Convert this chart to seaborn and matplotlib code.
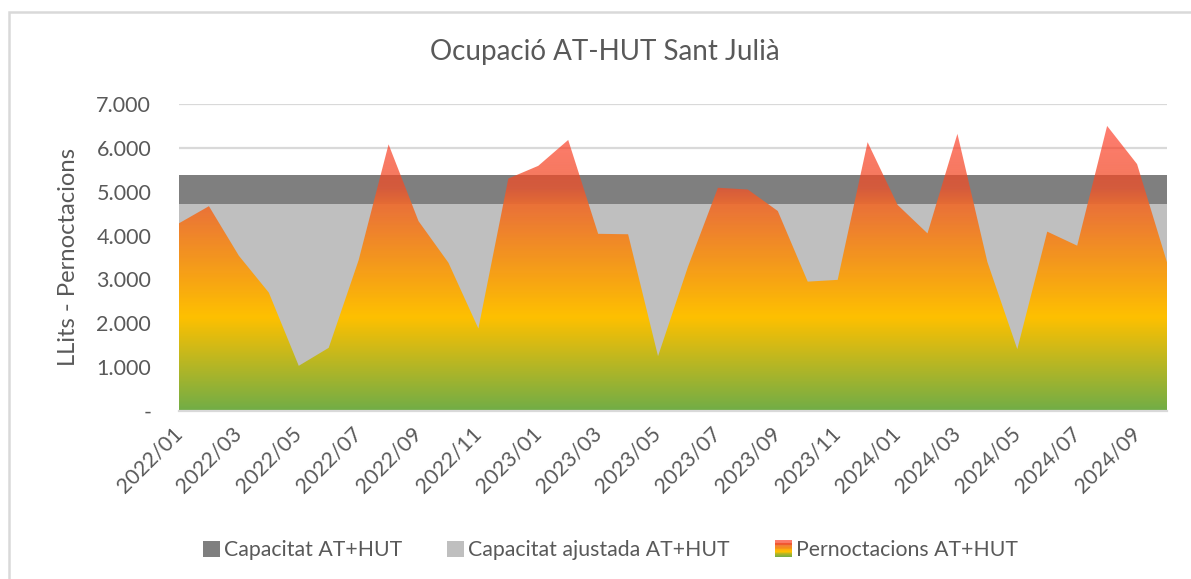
import numpy as np
import pandas as pd
import matplotlib
matplotlib.use("Agg")
import matplotlib.pyplot as plt
import seaborn as sns
from matplotlib.patches import Rectangle
from matplotlib.legend_handler import HandlerBase

# ---- data -------------------------------------------------------------
months = [
    "2022/01", "2022/02", "2022/03", "2022/04", "2022/05", "2022/06",
    "2022/07", "2022/08", "2022/09", "2022/10", "2022/11", "2022/12",
    "2023/01", "2023/02", "2023/03", "2023/04", "2023/05", "2023/06",
    "2023/07", "2023/08", "2023/09", "2023/10", "2023/11", "2023/12",
    "2024/01", "2024/02", "2024/03", "2024/04", "2024/05", "2024/06",
    "2024/07", "2024/08", "2024/09", "2024/10",
]
pernoctacions = [
    4280, 4670, 3540, 2700, 1030, 1440, 3440, 6080, 4330, 3380, 1880, 5300,
    5590, 6180, 4040, 4030, 1250, 3290, 5090, 5050, 4560, 2950, 2990, 6130,
    4700, 4050, 6320, 3400, 1410, 4090, 3770, 6500, 5630, 3390,
]
capacitat = 5390
capacitat_ajustada = 4710

y_ticks = [0, 1000, 2000, 3000, 4000, 5000, 6000, 7000]
y_tick_labels = ["-", "1.000", "2.000", "3.000", "4.000", "5.000", "6.000", "7.000"]

title = "Ocupació AT-HUT Sant Julià"
y_label = "LLits - Pernoctacions"
series_names = ["Capacitat AT+HUT", "Capacitat ajustada AT+HUT", "Pernoctacions AT+HUT"]

# ---- styling ----------------------------------------------------------
sns.set_theme(style="white")
plt.rcParams["font.family"] = ["Lato", "DejaVu Sans"]
TXT = "#595959"
DARK = "#7F7F7F"
LIGHT = "#BFBFBF"
GRID = "#D9D9D9"

df = pd.DataFrame({
    "idx": np.arange(len(months)),
    "mes": months,
    "pernoctacions": pernoctacions,
})
df["capacitat"] = capacitat
df["ajustada"] = capacitat_ajustada

W, H = 1191, 579
fig = plt.figure(figsize=(W / 100, H / 100), dpi=100)
ax = fig.add_axes([179 / W, 1 - 411 / H, (1167 - 179) / W, (411 - 104) / H])

# outer frame of the chart area
fig.patches.append(Rectangle((9 / W, -0.1), 1.2, 1 - 12 / H + 0.1,
                             transform=fig.transFigure, fill=False,
                             edgecolor=GRID, linewidth=1.8, zorder=0))

x = df["idx"].to_numpy()

# capacity areas
sns.lineplot(data=df, x="idx", y="capacitat", ax=ax, color=DARK, linewidth=0, zorder=1)
ax.fill_between(x, df["capacitat"], 0, color=DARK, linewidth=0, zorder=1)
sns.lineplot(data=df, x="idx", y="ajustada", ax=ax, color=LIGHT, linewidth=0, zorder=2)
ax.fill_between(x, df["ajustada"], 0, color=LIGHT, linewidth=0, zorder=2)

# overnight stays: gradient-filled area
sns.lineplot(data=df, x="idx", y="pernoctacions", ax=ax, color="none", linewidth=0, zorder=3)
area = ax.fill_between(x, df["pernoctacions"], 0, facecolor="none", edgecolor="none", zorder=3)

stops = [  # value, r, g, b, alpha
    (0,    112, 173, 71, 1.00),
    (2150, 255, 192, 0,  1.00),
    (4700, 238, 108, 46, 0.93),
    (5100, 240, 80,  40, 0.76),
    (6500, 255, 45,  25, 0.62),
    (7000, 255, 45,  25, 0.62),
]
levels = np.linspace(0, 7000, 701)
sv = np.array([s[0] for s in stops], dtype=float)
grad = np.zeros((len(levels), 1, 4))
for c in range(4):
    vals = np.array([s[c + 1] for s in stops], dtype=float)
    if c < 3:
        vals = vals / 255.0
    grad[:, 0, c] = np.interp(levels, sv, vals)
im = ax.imshow(grad, extent=[x[0], x[-1], 0, 7000], origin="lower",
               aspect="auto", interpolation="bilinear", zorder=3)
im.set_clip_path(area.get_paths()[0], transform=ax.transData)

# axes
ax.set_xlim(x[0], x[-1])
ax.set_ylim(0, 7000)
ax.set_yticks(y_ticks)
ax.set_yticklabels(y_tick_labels)
ax.yaxis.grid(True, color=GRID, linewidth=1.6, zorder=0)
ax.set_axisbelow(True)
for s in ["top", "right", "left"]:
    ax.spines[s].set_visible(False)
ax.spines["bottom"].set_color(GRID)
ax.spines["bottom"].set_linewidth(1.6)
ax.spines["bottom"].set_zorder(4)

ax.set_xticks(x[::2])
ax.set_xticklabels(months[::2], rotation=45, ha="right", va="center",
                   rotation_mode="anchor")
ax.tick_params(axis="x", length=0, pad=14, labelsize=15.3, labelcolor=TXT)
ax.tick_params(axis="y", length=0, pad=20, labelsize=15.5, labelcolor=TXT)
ax.set_xlabel("")
ax.set_ylabel("")

fig.text(68.5 / W, 1 - 257.5 / H, y_label, rotation=90, ha="center", va="center",
         fontsize=17.2, color=TXT)
fig.text(605 / W, 1 - 52 / H, title, ha="center", va="center",
         fontsize=20, color=TXT)


# legend with a gradient swatch for the overnight-stays series
class GradientHandler(HandlerBase):
    def create_artists(self, legend, orig_handle, xdescent, ydescent,
                       width, height, fontsize, trans):
        n = 20
        arts = []
        for i in range(n):
            v = 6500 * (i + 0.5) / n
            rgba = [np.interp(v, sv, [s[c + 1] for s in stops]) for c in range(4)]
            col = (rgba[0] / 255, rgba[1] / 255, rgba[2] / 255, rgba[3])
            r = Rectangle((-xdescent, -ydescent + height * i / n), width,
                          height / n + 0.3, facecolor=col, edgecolor="none",
                          transform=trans)
            arts.append(r)
        return arts


class GradientKey:
    pass


handles = [Rectangle((0, 0), 1, 1, facecolor=DARK, edgecolor="none"),
           Rectangle((0, 0), 1, 1, facecolor=LIGHT, edgecolor="none"),
           GradientKey()]
leg = fig.legend(handles, series_names, loc="center", bbox_to_anchor=(610.5 / W, 1 - 550 / H),
                 ncol=3, frameon=False, fontsize=15.3, labelcolor=TXT,
                 handlelength=0.8, handleheight=0.78, handletextpad=0.2,
                 columnspacing=2.1,
                 handler_map={GradientKey: GradientHandler()})

fig.savefig("out.png", dpi=100)
